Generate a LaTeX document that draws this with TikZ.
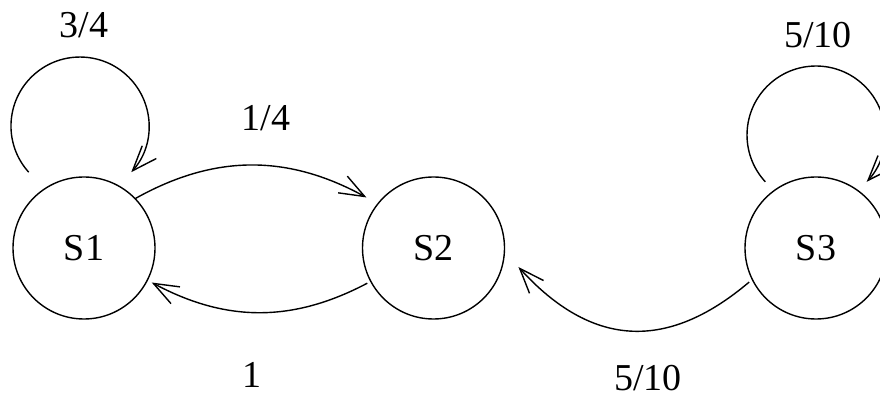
\documentclass[tikz,border=0pt]{standalone}
\usepackage{fontspec}
\setmainfont{Liberation Serif}
\usetikzlibrary{arrows.meta}
\begin{document}
\begin{tikzpicture}[x=1pt,y=1pt,
  state/.style={draw, circle, minimum size=142pt, inner sep=0pt, line width=1.4pt,
                font=\fontsize{38}{44}\selectfont},
  lbl/.style={font=\fontsize{38}{44}\selectfont, inner sep=0pt},
  arr/.style={line width=1.4pt,
              -{Straight Barb[length=25pt,width=19pt,line width=1.4pt]}}]
\useasboundingbox (0,0) rectangle (880,399);

% states
\node[state] (s1) at (84,151) {S1};
\node[state] (s2) at (433.5,151) {S2};
\node[state] (s3) at (816,151) {S3};

% transition probabilities
\node[lbl] (p11) at (84,374) {3/4};
\node[lbl] (p12) at (266,281) {1/4};
\node[lbl] (p21) at (252,24) {1};
\node[lbl] (p32) at (648,21) {5/10};
\node[lbl] (p33) at (818,364) {5/10};

% self-loops
\draw[arr] ([shift={(-55.3,75.8)}]s1.center) arc[start angle=222, end angle=-42, radius=69];
\draw[arr] ([shift={(-50.7,66.2)}]s3.center) arc[start angle=222.7, end angle=-42.7, radius=69];

% transitions between states
\draw[arr] ([shift={(44:71)}]s1.center) to[bend left=29] ([shift={(143:84)}]s2.center);
\draw[arr] ([shift={(208:75)}]s2.center) to[bend left=28] ([shift={(-27:76)}]s1.center);
\draw[arr] ([shift={(207:75)}]s3.center) to[bend left=44, looseness=1.2] ([shift={(-12.6:87)}]s2.center);
\end{tikzpicture}
\end{document}
